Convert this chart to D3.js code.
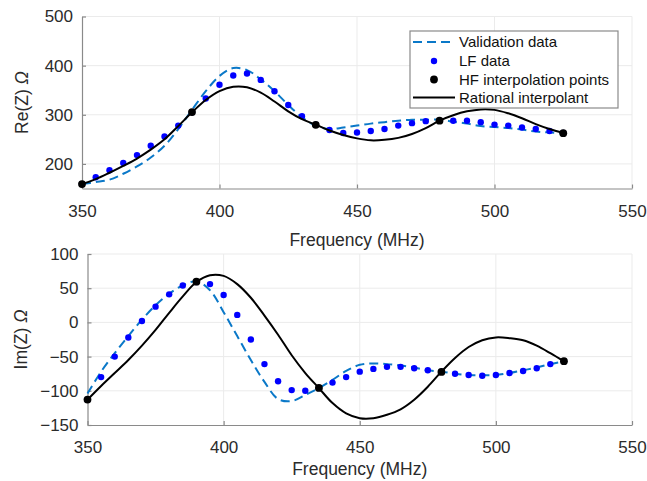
<!DOCTYPE html>
<html>
<head>
<meta charset="utf-8">
<script src="https://cdn.jsdelivr.net/npm/d3@7"></script>
<style>
  html, body { margin: 0; padding: 0; background: #fff; }
  svg { display: block; font-family: "Liberation Sans", Arial, Helvetica, sans-serif; }
</style>
</head>
<body>
<svg id="chart" width="647" height="481"></svg>
<script>
// ---------- DATA ----------
const freqs = [350,355,360,365,370,375,380,385,390,395,400,405,410,415,420,425,430,435,440,445,450,455,460,465,470,475,480,485,490,495,500,505,510,515,520,525];

// Re(Z)
const reValidation = [159,163,168,180,195,213,237,271,310,348,379,395,391,372,348,320,295,278,271,274,278,282,285,288,290,290,290,286,282,277,275,273,270,266,264,262];
const reLF         = [159,173,187,202,218,237,256,278,305,333,361,380,384,371,348,320,297,280,269,263,264,267,271,278,283,287,288,288,288,285,280,278,274,271,267,263];
const reRational   = [159,169,182,196,211,229,250,277,305,330,348,357,356,345,327,307,291,280,268,259,252,248,249,253,261,273,288,299,307,311,310,303,293,281,271,263];

// Im(Z)
const imValidation = [-104,-72,-45,-20,4,25,42,54,60,47,15,-20,-55,-87,-112,-115,-106,-96,-84,-71,-62,-60,-61,-63,-66,-70,-72,-75,-77,-77,-77,-74,-70,-66,-61,-57];
const imLF         = [-113,-80,-50,-22,2,23,41,54,59,56,40,11,-25,-61,-86,-99,-100,-96,-88,-80,-72,-68,-65,-65,-67,-70,-72,-75,-77,-78,-77,-74,-71,-67,-61,-57];
const imRational   = [-113,-93,-74,-55,-34,-11,14,38,59,69,68,56,36,10,-18,-48,-74,-96,-118,-133,-140,-140,-135,-127,-113,-94,-72,-52,-36,-26,-22,-23,-26,-34,-45,-57];

// HF interpolation points
const hfFreqs = [350,390,435,480,525];
const hfRe    = [159,305.5,279.6,288,262.6];
const hfIm    = [-112.8,59.5,-95.8,-72.4,-56.7];

// Axes / ticks
const xDomain = [350,550];
const xTicks = [350,400,450,500,550];
const reDomain = [150,500];
const reTicks = [200,300,400,500];
const imDomain = [-150,100];
const imTicks = [-150,-100,-50,0,50,100];

const legendLabels = ["Validation data","LF data","HF interpolation points","Rational interpolant"];

// ---------- DRAW ----------
const svg = d3.select("#chart");
const C = { val: "#0a78c8", lf: "#0000ff", hf: "#000000", rat: "#000000",
            grid: "#ebebeb", axis: "#8a8a8a", text: "#2b2b2b" };

function panel(opt) {
  const x = d3.scaleLinear().domain(xDomain).range([opt.left, opt.right]);
  const y = d3.scaleLinear().domain(opt.yDomain).range([opt.bottom, opt.top]);
  const g = svg.append("g");

  // grid
  g.append("g").selectAll("line.gx").data(xTicks.filter(t => t !== xDomain[0]))
    .join("line").attr("x1", d => x(d)).attr("x2", d => x(d))
    .attr("y1", opt.top).attr("y2", opt.bottom)
    .attr("stroke", C.grid).attr("stroke-width", 1);
  g.append("g").selectAll("line.gy").data(opt.yTicks.filter(t => t !== opt.yDomain[0]))
    .join("line").attr("x1", opt.left).attr("x2", opt.right)
    .attr("y1", d => y(d)).attr("y2", d => y(d))
    .attr("stroke", C.grid).attr("stroke-width", 1);

  // axes
  const xAxis = d3.axisBottom(x).tickValues(xTicks).tickSizeInner(-4).tickSizeOuter(0).tickPadding(12);
  const yAxis = d3.axisLeft(y).tickValues(opt.yTicks).tickSizeInner(-4).tickSizeOuter(0).tickPadding(9);
  const gx = g.append("g").attr("transform", `translate(0,${opt.bottom})`).call(xAxis);
  const gy = g.append("g").attr("transform", `translate(${opt.left},0)`).call(yAxis);
  [gx, gy].forEach(a => {
    a.select(".domain").attr("stroke", C.axis).attr("stroke-width", 1.2);
    a.selectAll(".tick line").attr("stroke", C.axis).attr("stroke-width", 1.2);
    a.selectAll(".tick text").attr("fill", C.text).style("font-size", "17px")
      .style("font-family", '"Liberation Sans", Arial, sans-serif');
  });
  gx.selectAll(".tick text").attr("dy", "0.95em");

  // labels
  g.append("text").attr("x", (opt.left + opt.right) / 2).attr("y", opt.xLabelY)
    .attr("text-anchor", "middle").attr("fill", C.text).style("font-size", "17.5px")
    .text("Frequency (MHz)");
  const yl = g.append("text")
    .attr("transform", `translate(${opt.yLabelX},${(opt.top + opt.bottom) / 2}) rotate(-90)`)
    .attr("text-anchor", "middle").attr("fill", C.text).style("font-size", "17.5px");
  yl.append("tspan").text(opt.yLabel + " ");
  yl.append("tspan").style("font-style", "italic").text("Ω");

  const line = d3.line().x((d, i) => x(freqs[i])).y(d => y(d)).curve(d3.curveCatmullRom.alpha(0.5));

  // validation (dashed)
  g.append("path").datum(opt.val).attr("d", line).attr("fill", "none")
    .attr("stroke", C.val).attr("stroke-width", 2).attr("stroke-dasharray", "9,5");
  // LF dots
  g.append("g").selectAll("circle").data(opt.lf).join("circle")
    .attr("cx", (d, i) => x(freqs[i])).attr("cy", d => y(d)).attr("r", 3.2).attr("fill", C.lf);
  // rational interpolant
  g.append("path").datum(opt.rat).attr("d", line).attr("fill", "none")
    .attr("stroke", C.rat).attr("stroke-width", 2);
  // HF points
  g.append("g").selectAll("circle").data(opt.hf).join("circle")
    .attr("cx", (d, i) => x(hfFreqs[i])).attr("cy", d => y(d)).attr("r", 3.9).attr("fill", C.hf);
}

panel({ left: 82, right: 632, top: 16.5, bottom: 188.5, yDomain: reDomain, yTicks: reTicks,
        yLabel: "Re(Z)", yLabelX: 28, xLabelY: 246,
        val: reValidation, lf: reLF, rat: reRational, hf: hfRe });
panel({ left: 87.5, right: 632, top: 254, bottom: 425, yDomain: imDomain, yTicks: imTicks,
        yLabel: "Im(Z)", yLabelX: 27, xLabelY: 475,
        val: imValidation, lf: imLF, rat: imRational, hf: hfIm });

// ---------- LEGEND ----------
const lg = svg.append("g");
lg.append("rect").attr("x", 410).attr("y", 31).attr("width", 208).attr("height", 77)
  .attr("fill", "#fff").attr("stroke", "#8a8a8a").attr("stroke-width", 1.2);
const rowY = [42, 61, 79.5, 97.5];
legendLabels.forEach((lab, i) => {
  const yy = rowY[i];
  if (i === 0) {
    lg.append("line").attr("x1", 413).attr("x2", 455).attr("y1", yy).attr("y2", yy)
      .attr("stroke", C.val).attr("stroke-width", 2).attr("stroke-dasharray", "9,5");
  } else if (i === 1) {
    lg.append("circle").attr("cx", 434).attr("cy", yy).attr("r", 3.2).attr("fill", C.lf);
  } else if (i === 2) {
    lg.append("circle").attr("cx", 434).attr("cy", yy).attr("r", 3.9).attr("fill", C.hf);
  } else {
    lg.append("line").attr("x1", 413).attr("x2", 455).attr("y1", yy).attr("y2", yy)
      .attr("stroke", C.rat).attr("stroke-width", 2);
  }
  lg.append("text").attr("x", 459).attr("y", yy).attr("dy", "0.35em")
    .attr("fill", "#111").style("font-size", "15px").text(lab);
});
</script>
</body>
</html>
